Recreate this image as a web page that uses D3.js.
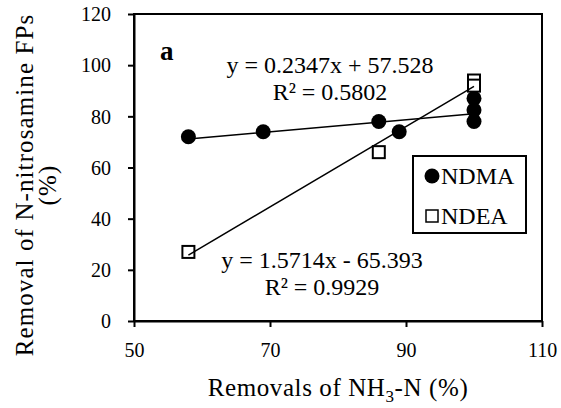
<!DOCTYPE html>
<html>
<head>
<meta charset="utf-8">
<script src="https://cdn.jsdelivr.net/npm/d3@7"></script>
<style>
  body { margin: 0; background: #fff; }
  svg text { font-family: "Liberation Serif", "Times New Roman", serif; fill: #000; }
</style>
</head>
<body>
<div id="chart"></div>
<script>
// data
const ndmaX = [58, 69, 86, 89, 100, 100, 100];
const ndmaY = [72, 74, 78, 74, 87, 82.5, 78];
const ndeaX = [58, 86, 100, 100];
const ndeaY = [27, 66, 94, 92];
const ndmaFit = {slope: 0.2347, intercept: 57.528, label: "y = 0.2347x + 57.528", r2: "R² = 0.5802"};
const ndeaFit = {slope: 1.5714, intercept: -65.393, label: "y = 1.5714x - 65.393", r2: "R² = 0.9929"};
const xTicks = [50, 70, 90, 110];
const yTicks = [0, 20, 40, 60, 80, 100, 120];

const width = 561, height = 408;
const margin = {top: 14, right: 19, bottom: 87, left: 134};
const serif = "'Liberation Serif', 'Times New Roman', serif";

var svg = d3.select("#chart")
  .append("svg")
  .attr("width", width)
  .attr("height", height);

var x = d3.scaleLinear().domain([50, 110]).range([margin.left, width - margin.right]);
var y = d3.scaleLinear().domain([0, 120]).range([height - margin.bottom, margin.top]);

// frame (top and right)
svg.append("rect")
  .attr("x", x(50)).attr("y", y(120))
  .attr("width", x(110) - x(50)).attr("height", y(0) - y(120))
  .attr("fill", "none").attr("stroke", "#000").attr("stroke-width", 2);

// X axis
var gx = svg.append("g")
  .attr("transform", "translate(0," + y(0) + ")")
  .call(d3.axisBottom(x).tickValues(xTicks).tickSize(6).tickSizeOuter(0).tickPadding(16));

// Y axis
var gy = svg.append("g")
  .attr("transform", "translate(" + x(50) + ",0)")
  .call(d3.axisLeft(y).tickValues(yTicks).tickSize(6).tickSizeOuter(0).tickPadding(17));
gy.selectAll("text").attr("dy", "0.34em");

[gx, gy].forEach(function (g) {
  g.attr("font-family", serif).attr("font-size", 20);
  g.selectAll("text").style("font-family", serif).style("font-size", "20px");
  g.select(".domain").attr("stroke-width", 2);
  g.selectAll(".tick line").attr("stroke-width", 2);
});

// axis titles
var xt = svg.append("text")
  .attr("x", (x(50) + x(110)) / 2).attr("y", 396)
  .attr("text-anchor", "middle").style("font-size", "25px").style("letter-spacing", "0.6px");
xt.append("tspan").text("Removals of NH");
xt.append("tspan").attr("dy", 6).style("font-size", "17px").text("3");
xt.append("tspan").attr("dy", -6).text("-N (%)");

var yt = svg.append("text")
  .attr("transform", "translate(33,185) rotate(-90)")
  .attr("text-anchor", "middle").style("font-size", "25px").style("letter-spacing", "1.1px");
yt.append("tspan").attr("x", 0).attr("y", 0).text("Removal of N-nitrosamine FPs");
yt.append("tspan").attr("x", 0).attr("y", 23).text("(%)");

// panel label
svg.append("text").attr("x", 160).attr("y", 60)
  .style("font-size", "27px").style("font-weight", "bold").text("a");

// NDMA markers
svg.append("g").selectAll("circle")
  .data(ndmaX.map((d, i) => [d, ndmaY[i]]))
  .enter().append("circle")
  .attr("cx", d => x(d[0])).attr("cy", d => y(d[1]))
  .attr("r", 7.5).attr("fill", "#000");

// NDEA markers
svg.append("g").selectAll("rect")
  .data(ndeaX.map((d, i) => [d, ndeaY[i]]))
  .enter().append("rect")
  .attr("x", d => x(d[0]) - 6).attr("y", d => y(d[1]) - 6)
  .attr("width", 12).attr("height", 12)
  .attr("fill", "#fff").attr("stroke", "#000").attr("stroke-width", 2);

// trend lines
function trend(xs, fit) {
  var x0 = d3.min(xs), x1 = d3.max(xs);
  svg.append("line")
    .attr("x1", x(x0)).attr("y1", y(fit.slope * x0 + fit.intercept))
    .attr("x2", x(x1)).attr("y2", y(fit.slope * x1 + fit.intercept))
    .attr("stroke", "#000").attr("stroke-width", 1.5);
}
trend(ndmaX, ndmaFit);
trend(ndeaX, ndeaFit);

// equations
function eq(fit, cx, by) {
  svg.append("text").attr("x", cx).attr("y", by)
    .attr("text-anchor", "middle").style("font-size", "24px").text(fit.label);
  svg.append("text").attr("x", cx).attr("y", by + 27)
    .attr("text-anchor", "middle").style("font-size", "24px").text(fit.r2);
}
eq(ndmaFit, 330, 73);
eq(ndeaFit, 322, 268);

// legend
var lg = svg.append("g");
lg.append("rect").attr("x", 413).attr("y", 156).attr("width", 113).attr("height", 77)
  .attr("fill", "#fff").attr("stroke", "#000").attr("stroke-width", 2);
lg.append("circle").attr("cx", 432).attr("cy", 176).attr("r", 7.5).attr("fill", "#000");
lg.append("rect").attr("x", 426).attr("y", 210).attr("width", 12).attr("height", 12)
  .attr("fill", "#fff").attr("stroke", "#000").attr("stroke-width", 1.5);
lg.append("text").attr("x", 441).attr("y", 184).style("font-size", "24px").text("NDMA");
lg.append("text").attr("x", 441).attr("y", 224).style("font-size", "24px").text("NDEA");
</script>
</body>
</html>
